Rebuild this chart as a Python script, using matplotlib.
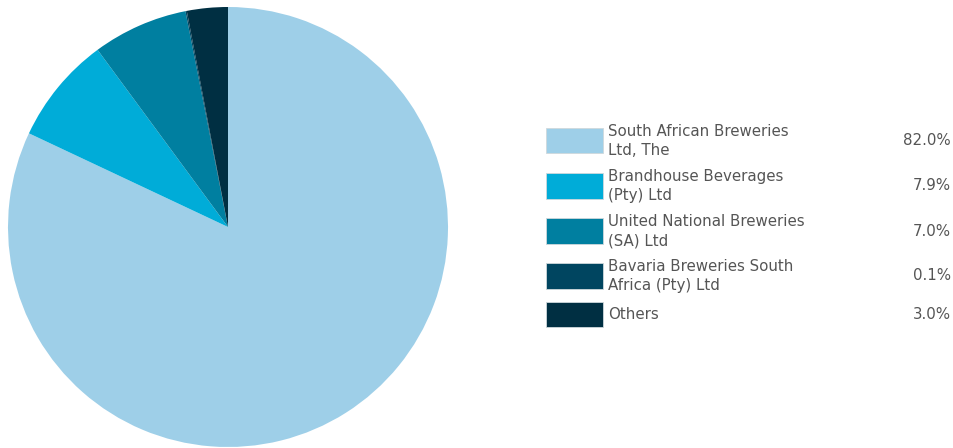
import matplotlib.pyplot as plt
from matplotlib.patches import Rectangle

# Market share data
labels = [
    "South African Breweries\nLtd, The",
    "Brandhouse Beverages\n(Pty) Ltd",
    "United National Breweries\n(SA) Ltd",
    "Bavaria Breweries South\nAfrica (Pty) Ltd",
    "Others",
]
shares = [82.0, 7.9, 7.0, 0.1, 3.0]
colors = ["#9ecfe8", "#00acd8", "#007fa0", "#004560", "#002f42"]

W, H = 954, 448
fig = plt.figure(figsize=(W / 100, H / 100), dpi=100)

# Pie axes: centre (228, 227) px, radius 220 px
cx, cy, r = 228, 227, 220
ax = fig.add_axes([(cx - r) / W, (H - cy - r) / H, 2 * r / W, 2 * r / H])
ax.pie(shares, colors=colors, startangle=90, counterclock=False,
       wedgeprops={"linewidth": 0})
ax.set_aspect("equal")
ax.set_xlim(-1, 1)
ax.set_ylim(-1, 1)
ax.axis("off")

# Manual legend
box_tops = [128, 173, 218, 263, 302]
box_bottoms = [153, 199, 244, 289, 327]
text_color = "#555555"
for lab, val, col, top, bot in zip(labels, shares, colors, box_tops, box_bottoms):
    fig.patches.append(Rectangle((546 / W, (H - bot) / H), 57 / W, (bot - top) / H,
                                 transform=fig.transFigure, facecolor=col,
                                 edgecolor="#cfd8dc", linewidth=0.6))
    mid = (top + bot) / 2
    lines = lab.split("\n")
    if len(lines) == 2:
        ys = [mid - 9.5, mid + 9.5]
    else:
        ys = [mid]
    for line, y in zip(lines, ys):
        fig.text(608 / W, (H - y) / H, line, ha="left", va="center",
                 fontsize=10.8, color=text_color, family="DejaVu Sans")
    fig.text(951 / W, (H - mid) / H, f"{val:.1f}%", ha="right", va="center",
             fontsize=10.8, color=text_color, family="DejaVu Sans")

fig.savefig("out.png", dpi=100)
